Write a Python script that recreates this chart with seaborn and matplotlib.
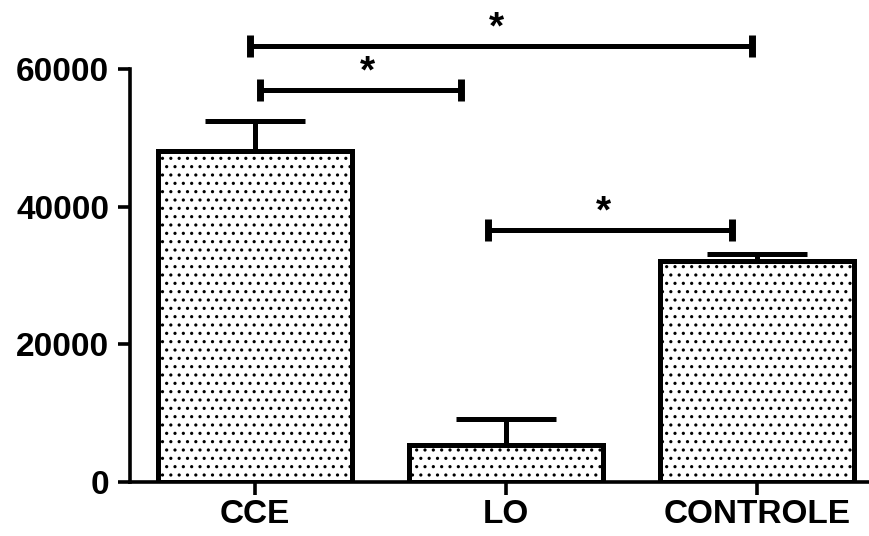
import matplotlib
matplotlib.use("Agg")
import matplotlib.pyplot as plt
import seaborn as sns
import pandas as pd
import numpy as np

categories = ["CCE", "LO", "CONTROLE"]
means = [48070, 5310, 32150]
errors = [4370, 3900, 1000]

# significance brackets: (x_start, x_end, y)
bracket_x1 = [-0.02, 0.02, 0.93]
bracket_x2 = [1.98, 0.82, 1.90]
bracket_y = [63420, 57020, 36650]
star_x = [0.96, 0.45, 1.39]
star_y = [66000, 59600, 39200]

yticks = [0, 20000, 40000, 60000]

sns.set_theme(style="ticks")
plt.rcParams["font.family"] = ["Liberation Sans", "DejaVu Sans"]
plt.rcParams["font.weight"] = "bold"
plt.rcParams["hatch.linewidth"] = 1.1
plt.rcParams["hatch.color"] = "black"
plt.rcParams["text.color"] = "black"
plt.rcParams["axes.edgecolor"] = "black"
plt.rcParams["xtick.color"] = "black"
plt.rcParams["ytick.color"] = "black"
plt.rcParams["xtick.labelcolor"] = "black"
plt.rcParams["ytick.labelcolor"] = "black"

fig = plt.figure(figsize=(8.7, 5.36), dpi=100)
ax = fig.add_axes([130 / 870, 54 / 536, 740 / 870, 471 / 536])

df = pd.DataFrame({"group": categories, "value": means})
sns.barplot(data=df, x="group", y="value", order=categories, color="white",
            edgecolor="black", linewidth=3.6, width=0.77, errorbar=None, ax=ax)
for p in ax.patches:
    p.set_hatch("..")
    p.set_facecolor("white")
    p.set_edgecolor("black")

xs = np.arange(len(categories))
ax.errorbar(xs, means, yerr=[np.zeros(len(means)), errors], fmt="none",
            ecolor="black", elinewidth=3.6, capsize=36, capthick=3.6, zorder=1)
for p in ax.patches:
    p.set_zorder(2)

for x1, x2, y in zip(bracket_x1, bracket_x2, bracket_y):
    ax.plot([x1, x2], [y, y], color="black", lw=3.6, solid_capstyle="butt", clip_on=False)
    for xe in (x1, x2):
        ax.plot([xe, xe], [y - 1650, y + 1650], color="black", lw=5, solid_capstyle="butt", clip_on=False)
for sx, sy in zip(star_x, star_y):
    ax.text(sx, sy, "*", ha="center", va="center", fontsize=28, fontweight="bold", color="black")

ax.set_xlim(-0.498, 2.45)
ax.set_ylim(0, 68500)
ax.set_yticks(yticks)
ax.set_yticklabels([str(v) for v in yticks])
ax.set_xlabel("")
ax.set_ylabel("")
sns.despine(ax=ax)
ax.spines["left"].set_bounds(0, 60000)
ax.spines["left"].set_linewidth(2.6)
ax.spines["bottom"].set_linewidth(2.6)
ax.tick_params(axis="y", length=9, width=2.6, color="black", labelcolor="black", pad=6)
ax.tick_params(axis="x", length=9, width=2.6, color="black", labelcolor="black", pad=3)
for lab in ax.get_yticklabels():
    lab.set_fontsize(24)
    lab.set_fontweight("bold")
    lab.set_color("black")
for lab in ax.get_xticklabels():
    lab.set_fontsize(24)
    lab.set_fontweight("bold")
    lab.set_color("black")

fig.savefig("out.png", dpi=100, facecolor="white")
